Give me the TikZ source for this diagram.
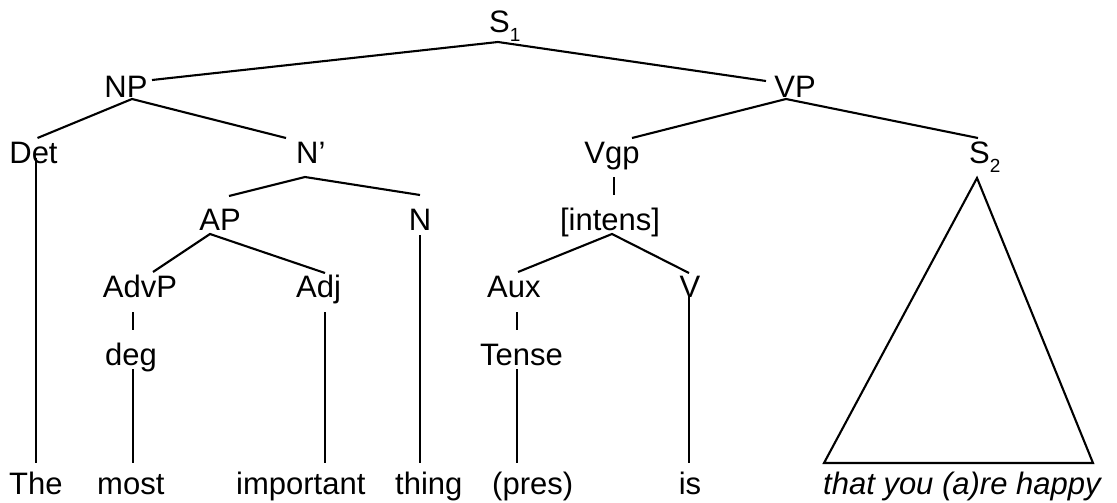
\documentclass[tikz,border=0pt]{standalone}
\usepackage{fontspec}
\setmainfont{Liberation Sans}
\newcommand{\subs}[1]{\raisebox{-9pt}{\fontsize{19}{19}\selectfont #1}}
\begin{document}
\begin{tikzpicture}[x=1pt,y=-1pt,
  lab/.style={anchor=base,inner sep=0pt,font=\fontsize{31}{32}\selectfont},
  labw/.style={lab,anchor=base west},
  edge/.style={line width=2.1pt}]
\useasboundingbox (0,0) rectangle (1117,503);
% labels
\node[labw] (S1) at (489,33) {S\subs{1}};
\node[lab] (NP) at (126,97) {NP};
\node[lab] (VP) at (795,97) {VP};
\node[lab] (Det) at (33.5,163) {Det};
\node[labw] (Nbar) at (296,163) {N’};
\node[lab] (Vgp) at (612,163) {Vgp};
\node[labw] (S2) at (969,163) {S\subs{2}};
\node[lab] (AP) at (220,230) {AP};
\node[lab] (N) at (420,230) {N};
\node[lab] (intens) at (610,230) {[intens]};
\node[lab] (AdvP) at (140,297) {AdvP};
\node[labw] (Adj) at (296,297) {Adj};
\node[labw] (Aux) at (487,297) {Aux};
\node[lab] (V) at (690,297) {V};
\node[labw] (deg) at (105,365) {deg};
\node[labw] (Tense) at (480,365) {Tense};
\node[labw] (w1) at (9,494) {The};
\node[labw] (w2) at (97,494) {most};
\node[labw] (w3) at (236,494) {important};
\node[labw] (w4) at (395,494) {thing};
\node[labw] (w5) at (492,494) {(pres)};
\node[lab] (w6) at (690,494) {is};
\node[labw,font=\fontsize{31}{32}\selectfont\itshape] (w7) at (823,494) {that you (a)re happy};
% junction points
\coordinate (s1j) at (498,42);
\coordinate (npR) at (152,80);
\coordinate (vpL) at (766,81);
\coordinate (npj) at (132,99);
\coordinate (detT) at (37.5,138);
\coordinate (nbT) at (286,138);
\coordinate (vpj) at (786,99);
\coordinate (vgpT) at (632,138);
\coordinate (s2T) at (978,138);
\coordinate (nbj) at (305,177);
\coordinate (apT) at (229,196);
\coordinate (nT) at (420,195);
\coordinate (apj) at (210,234);
\coordinate (advT) at (153,272);
\coordinate (adjT) at (325,273);
\coordinate (inj) at (612,234);
\coordinate (auxT) at (518,272);
\coordinate (vT) at (689,273);
\coordinate (triA) at (977,178);
\coordinate (triL) at (824,463);
\coordinate (triR) at (1093,463);
% edges
\draw[edge] (npR) -- (s1j) -- (vpL);
\draw[edge] (detT) -- (npj) -- (nbT);
\draw[edge] (vgpT) -- (vpj) -- (s2T);
\draw[edge] (apT) -- (nbj) -- (nT);
\draw[edge] (advT) -- (apj) -- (adjT);
\draw[edge] (auxT) -- (inj) -- (vT);
\draw[edge] (36,158) -- (36,463);
\draw[edge] (133,312) -- (133,330);
\draw[edge] (133,369) -- (133,463);
\draw[edge] (325,312) -- (325,463);
\draw[edge] (420,235) -- (420,463);
\draw[edge] (517,312) -- (517,330);
\draw[edge] (517,369) -- (517,463);
\draw[edge] (614,177) -- (614,195);
\draw[edge] (689,295) -- (689,463);
\draw[edge] (triA) -- (triL) -- (triR) -- cycle;
\end{tikzpicture}
\end{document}
